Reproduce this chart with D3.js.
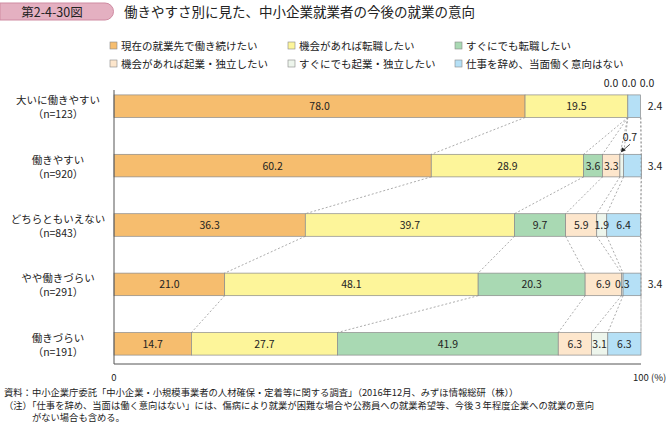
<!DOCTYPE html>
<html><head><meta charset="utf-8">
<script src="https://cdn.jsdelivr.net/npm/d3@7"></script>
<style>body{margin:0;background:#fff}text{font-family:"Noto Sans CJK JP",sans-serif}</style>
</head><body><div class="canva"></div>
<script>
const categories = ["大いに働きやすい", "働きやすい", "どちらともいえない", "やや働きづらい", "働きづらい"];
const counts = ["（n=123）", "（n=920）", "（n=843）", "（n=291）", "（n=191）"];
const seriesNames = ["現在の就業先で働き続けたい", "機会があれば転職したい", "すぐにでも転職したい",
  "機会があれば起業・独立したい", "すぐにでも起業・独立したい", "仕事を辞め、当面働く意向はない"];
const values = [
  [78.0, 19.5, 0.0, 0.0, 0.0, 2.4],
  [60.2, 28.9, 3.6, 3.3, 0.7, 3.4],
  [36.3, 39.7, 9.7, 5.9, 1.9, 6.4],
  [21.0, 48.1, 20.3, 6.9, 0.3, 3.4],
  [14.7, 27.7, 41.9, 6.3, 3.1, 6.3]
];
const colors = ["#f6bd6e", "#fdf59a", "#a9d9b3", "#fde6cc", "#edf5ec", "#b5e0f6"];
const xTicks = [0, 100];

const width = 668, height = 429;
const svg = d3.select(".canva").append("svg").attr("width", width).attr("height", height);

// header
svg.append("path").attr("d", "M0,3 H105 A8.5,8.5 0 0 1 105,20 H0 Z")
  .attr("fill", "#e4b0c1").attr("stroke", "#cf8ba2");
svg.append("text").attr("x", 52).attr("y", 16.5).attr("text-anchor", "middle")
  .attr("font-size", 12.5).attr("fill", "#222").text("第2-4-30図");
svg.append("text").attr("x", 124).attr("y", 17).attr("font-size", 13.5).attr("fill", "#222")
  .text("働きやすさ別に見た、中小企業就業者の今後の就業の意向");

// legend
const legX = [110, 288, 455];
seriesNames.forEach((s, i) => {
  const g = svg.append("g").attr("transform", `translate(${legX[i % 3]},${i < 3 ? 46 : 64})`);
  g.append("rect").attr("x", 0).attr("y", -4).attr("width", 7).attr("height", 7)
    .attr("fill", colors[i]).attr("stroke", "#888").attr("stroke-width", 0.6);
  g.append("text").attr("x", 11).attr("y", 4).attr("font-size", 10.5).attr("fill", "#222").text(s);
});

const x = d3.scaleLinear().domain([0, 100]).range([114, 641]);
const y = d3.scaleBand().domain(categories).range([86, 364]).paddingInner(0.62).paddingOuter(0.15);
const bh = y.bandwidth();

const stacked = values.map(row => {
  let c = 0;
  return row.map(v => { const s = c; c += v; return [s, c, v]; });
});

// connector lines
for (let r = 0; r < categories.length - 1; r++) {
  for (let k = 0; k < 6; k++) {
    const a = stacked[r][k][1], b = stacked[r + 1][k][1];
    svg.append("line").attr("x1", x(a)).attr("y1", y(categories[r]) + bh)
      .attr("x2", x(b)).attr("y2", y(categories[r + 1]))
      .attr("stroke", "#888").attr("stroke-width", 0.7).attr("stroke-dasharray", "2,2");
  }
}

// bars
categories.forEach((c, r) => {
  const g = svg.append("g");
  g.selectAll("rect").data(stacked[r]).join("rect")
    .attr("x", d => x(d[0])).attr("y", y(c))
    .attr("width", d => x(d[1]) - x(d[0])).attr("height", bh)
    .attr("fill", (d, i) => colors[i]).attr("stroke", "#8a8a8a").attr("stroke-width", 0.7);
  stacked[r].forEach((d, i) => {
    let tx = (x(d[0]) + x(d[1])) / 2, ty = y(c) + bh / 2 + 4;
    if (d[2] === 0) { tx = x(100) + 6 - (4 - i) * 18; ty = y(c) - 8; }
    else if (i === 5 && d[2] < 5) { tx = x(100) + 14; }
    else if (r === 1 && i === 4) { tx = x(d[0]) + 10; ty = y(c) - 13; }
    g.append("text").attr("x", tx).attr("y", ty).attr("text-anchor", "middle")
      .attr("font-size", 10.5).attr("fill", "#222").text(d[2].toFixed(1));
  });
  g.append("text").attr("x", 58).attr("y", y(c) + bh / 2 - 2).attr("text-anchor", "middle")
    .attr("font-size", 10.5).attr("fill", "#222").text(c);
  g.append("text").attr("x", 58).attr("y", y(c) + bh / 2 + 12).attr("text-anchor", "middle")
    .attr("font-size", 10.5).attr("fill", "#222").text(counts[r]);
});

// arrow for 0.7
const ay = y(categories[1]);
const ax = x(stacked[1][4][0]) + 1;
svg.append("line").attr("x1", ax + 9).attr("y1", ay - 10).attr("x2", ax + 1).attr("y2", ay - 3)
  .attr("stroke", "#222").attr("stroke-width", 0.8);
svg.append("path").attr("d", `M${ax},${ay - 2} l1,-5 l4,3 z`).attr("fill", "#222");

// right dotted line at 100
svg.append("line").attr("x1", x(100)).attr("x2", x(100)).attr("y1", y(categories[0]) + bh).attr("y2", y(categories[4]))
  .attr("stroke", "#888").attr("stroke-width", 0.7).attr("stroke-dasharray", "2,2");

// axis
svg.append("line").attr("x1", x(0)).attr("x2", x(0)).attr("y1", 90).attr("y2", 364).attr("stroke", "#555");
svg.append("line").attr("x1", x(0)).attr("x2", x(100)).attr("y1", 364).attr("y2", 364).attr("stroke", "#555");
xTicks.forEach(t => svg.append("text").attr("x", t === 100 ? x(100) - 8 : x(t)).attr("y", 381)
  .attr("text-anchor", t === 100 ? "start" : "middle").attr("font-size", 9.5).attr("fill", "#222")
  .text(t === 100 ? "100 (%)" : t));

// notes
const notes = ["資料：中小企業庁委託「中小企業・小規模事業者の人材確保・定着等に関する調査」（2016年12月、みずほ情報総研（株））",
  "（注）「仕事を辞め、当面は働く意向はない」には、傷病により就業が困難な場合や公務員への就業希望等、今後３年程度企業への就業の意向",
  "　　　がない場合も含める。"];
notes.forEach((n, i) => svg.append("text").attr("x", 4).attr("y", 396 + i * 12.5)
  .attr("font-size", 9.3).attr("fill", "#222").text(n));
</script></body></html>
